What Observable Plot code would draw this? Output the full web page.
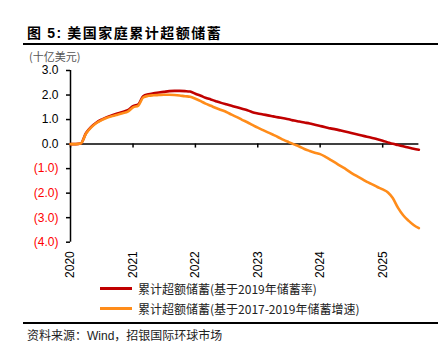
<!DOCTYPE html>
<html>
<head>
<meta charset="utf-8">
<script src="https://cdn.jsdelivr.net/npm/d3@7"></script>
<script src="https://cdn.jsdelivr.net/npm/@observablehq/plot@0.6"></script>
<style>
  html, body { margin: 0; padding: 0; background: #fff; }
  #wrap { position: relative; width: 448px; height: 351px; overflow: hidden; font-family: "Noto Sans CJK SC", "Liberation Sans", sans-serif; }
  #chart { position: absolute; left: 0; top: 0; z-index: 2; }
  .title { position: absolute; left: 27px; top: 22px; font-size: 14px; font-weight: bold; letter-spacing: 1.5px; color: #000; white-space: nowrap; }
  .title .num { font-family: "Liberation Sans", Arial, sans-serif; }
  .rule { position: absolute; left: 23px; width: 415px; height: 2px; background: #000; }
  .unit { position: absolute; left: 29px; top: 50px; font-size: 11px; line-height: 12px; color: #555; white-space: nowrap; }
  .legend { position: absolute; left: 100px; font-size: 12px; color: #222; white-space: nowrap; display: flex; align-items: center; }
  .legend .sw { display: inline-block; width: 32px; height: 3px; margin-right: 6px; }
  .source { position: absolute; left: 27px; top: 326px; font-size: 12px; color: #222; white-space: nowrap; }
  .source .w { font-family: "Liberation Sans", Arial, sans-serif; }
</style>
</head>
<body>
<div id="wrap">
  <div class="title">图 <span class="num">5:</span> 美国家庭累计超额储蓄</div>
  <div class="rule" style="top:43px"></div>
  <div class="unit">(十亿美元)</div>
  <div id="chart"></div>
  <div class="legend" style="top:280px"><span class="sw" style="background:#C00000"></span>累计超额储蓄(基于2019年储蓄率)</div>
  <div class="legend" style="top:300px"><span class="sw" style="background:#FF8C1A"></span>累计超额储蓄(基于2017-2019年储蓄增速)</div>
  <div class="rule" style="top:322px"></div>
  <div class="source">资料来源：<span class="w">Wind</span>，招银国际环球市场</div>
</div>
<script>
// Monthly series starting January 2020 (units: billion USD as labelled)
const startMonth = "2020-01";
const seriesNames = ["累计超额储蓄(基于2019年储蓄率)", "累计超额储蓄(基于2017-2019年储蓄增速)"];
const seriesColors = ["#C00000", "#FF8C1A"];
const redValues = [
  0, 0, 0.02, 0.45, 0.7, 0.88, 1.0, 1.1, 1.18, 1.25, 1.31, 1.38,
  1.55, 1.62, 1.95, 2.03, 2.07, 2.1, 2.13, 2.16, 2.17, 2.17, 2.16, 2.14,
  2.05, 1.97, 1.89, 1.82, 1.75, 1.68, 1.62, 1.56, 1.5, 1.44, 1.38, 1.3,
  1.25, 1.21, 1.17, 1.13, 1.09, 1.05, 1.01, 0.96, 0.92, 0.88, 0.84, 0.79,
  0.74, 0.69, 0.64, 0.6, 0.55, 0.5, 0.45, 0.4, 0.35, 0.3, 0.25, 0.2,
  0.14, 0.07, 0.01, -0.04, -0.09, -0.14, -0.19, -0.23
];
const orangeValues = [
  0, 0, 0.02, 0.43, 0.68, 0.86, 0.98, 1.07, 1.14, 1.2, 1.26, 1.32,
  1.5, 1.57, 1.9, 1.97, 1.99, 2.0, 2.01, 2.01, 2.0, 1.98, 1.95, 1.93,
  1.85, 1.75, 1.65, 1.56, 1.47, 1.39, 1.31, 1.2, 1.1, 0.99, 0.89, 0.78,
  0.67, 0.57, 0.48, 0.38, 0.28, 0.17, 0.08, -0.01, -0.1, -0.2, -0.28, -0.35,
  -0.41, -0.52, -0.64, -0.77, -0.9, -1.03, -1.17, -1.3, -1.42, -1.54, -1.64, -1.75,
  -1.85, -1.97, -2.2, -2.6, -2.9, -3.12, -3.3, -3.43
];
const yearTicks = ["2020", "2021", "2022", "2023", "2024", "2025"];
const yTicks = [3, 2, 1, 0, -1, -2, -3, -4];

const parse = d3.utcParse("%Y-%m");
const start = parse(startMonth);
const years = yearTicks.map(y => d3.utcParse("%Y")(y));
const rows = [];
[redValues, orangeValues].forEach((vals, s) => {
  vals.forEach((v, i) => rows.push({date: d3.utcMonth.offset(start, i), value: v, series: seriesNames[s]}));
});
const endDate = d3.utcMonth.offset(start, redValues.length - 1);

const fmt = d => d < 0 ? `(${Math.abs(d).toFixed(1)})` : d.toFixed(1);

const chart = Plot.plot({
  width: 448,
  height: 351,
  marginLeft: 70,
  marginRight: 29.6,
  marginTop: 70,
  marginBottom: 109.3,
  style: {fontFamily: "'Liberation Sans', Arial, sans-serif", fontSize: "12px", background: "transparent", overflow: "visible"},
  x: {type: "utc", domain: [start, endDate], label: null},
  y: {domain: [-4, 3], label: null},
  color: {domain: seriesNames, range: seriesColors},
  marks: [
    Plot.ruleY([0], {stroke: "#000", strokeWidth: 1.5}),
    Plot.ruleX([start], {stroke: "#000", strokeWidth: 1.5}),
    Plot.ruleX(years, {y1: 0, y2: 0, insetBottom: -4, stroke: "#000", strokeWidth: 1.5}),
    Plot.axisY({ticks: yTicks, tickSize: 4, tickPadding: 8, stroke: "#000", strokeWidth: 1.5, text: null, label: null}),
    Plot.text(yTicks, {x: start, y: d => d, text: fmt, dx: -12, textAnchor: "end", fontSize: 12, fill: d => d < 0 ? "#FF0000" : "#000"}),
    Plot.axisX({ticks: years, tickFormat: "%Y", tickSize: 0, tickPadding: 9, tickRotate: -90, fontSize: 12, fill: "#000", label: null}),
    Plot.lineY(rows.filter(d => d.series === seriesNames[0]), {x: "date", y: "value", stroke: "series", strokeWidth: 2.6, curve: "monotone-x"}),
    Plot.lineY(rows.filter(d => d.series === seriesNames[1]), {x: "date", y: "value", stroke: "series", strokeWidth: 2.6, curve: "monotone-x"})
  ]
});
document.getElementById("chart").appendChild(chart);
</script>
</body>
</html>
